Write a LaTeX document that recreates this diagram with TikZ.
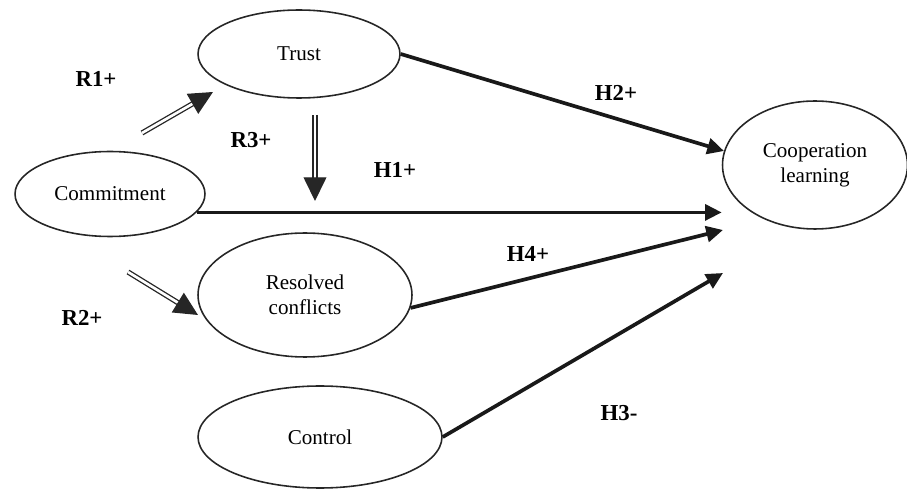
\documentclass[tikz,border=0pt]{standalone}
\usepackage{fontspec}
\setmainfont{Liberation Serif}
\usetikzlibrary{arrows.meta,shapes.geometric}
\tikzset{
  construct/.style={
    ellipse,
    draw=black!85,
    line width=0.9pt,
    inner sep=0pt,
    align=center,
    font=\fontsize{12}{14}\selectfont
  },
  arrow/.style={
    -{Triangle[length=9.5pt,width=9pt]},
    line width=2.1pt,
    draw=black!90
  },
  doublearrow/.style={
    -{Triangle[length=13.5pt,width=13pt]},
    double,
    double distance=1.5pt,
    line width=0.75pt,
    draw=black!85
  },
  hyp/.style={
    font=\bfseries\fontsize{13}{15}\selectfont
  }
}

\begin{document}
\begin{tikzpicture}[x=0.02cm, y=-0.02cm]
  \useasboundingbox (0,0) rectangle (907,493);

  \node[construct, minimum width=4.04cm, minimum height=1.76cm] (trust) at (299,54) {Trust};
  \node[construct, minimum width=3.8cm, minimum height=1.7cm] (commit) at (110,194) {Commitment};
  \node[construct, minimum width=4.28cm, minimum height=2.48cm] (resolved) at (305,295) {Resolved\\conflicts};
  \node[construct, minimum width=4.88cm, minimum height=2.04cm] (control) at (320,437) {Control};
  \node[construct, minimum width=3.7cm, minimum height=2.56cm] (coop) at (815,165) {Cooperation\\learning};

  % free ends of the connectors
  \coordinate (h2end) at (724,151);
  \coordinate (h4end) at (723,230);
  \coordinate (h3end) at (723,273);
  \coordinate (r1start) at (142,133);
  \coordinate (r1end) at (213,92);
  \coordinate (r2start) at (128,272);
  \coordinate (r2end) at (198,315);
  \coordinate (r3start) at (315,115);
  \coordinate (r3end) at (315,201);

  \draw[arrow] (trust.east) -- (h2end);
  \draw[arrow] (commit.-12) -- (commit.-12 -| coop.west);
  \draw[arrow] (resolved.-7) -- (h4end);
  \draw[arrow] (control.east) -- (h3end);

  \draw[doublearrow] (r1start) -- (r1end);
  \draw[doublearrow] (r2start) -- (r2end);
  \draw[doublearrow] (r3start) -- (r3end);

  \node[hyp] (r1) at (96,79) {R1+};
  \node[hyp] (r2) at (82,318) {R2+};
  \node[hyp] (r3) at (251,140) {R3+};
  \node[hyp] (h1) at (395,170) {H1+};
  \node[hyp] (h2) at (616,93) {H2+};
  \node[hyp] (h4) at (528,254) {H4+};
  \node[hyp] (h3) at (619,413) {H3-};
\end{tikzpicture}
\end{document}
